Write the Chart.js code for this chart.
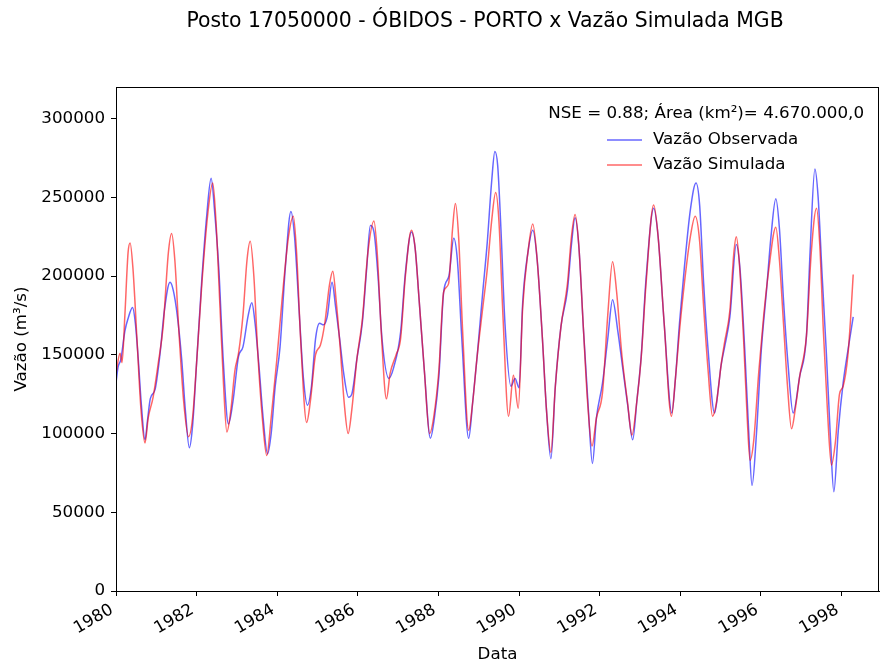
<!DOCTYPE html>
<html>
<head>
<meta charset="utf-8">
<script src="https://cdn.jsdelivr.net/npm/chart.js@4"></script>
<style>
  body { margin: 0; background: #fff; }
  canvas { display: block; }
</style>
</head>
<body>
<canvas id="chart" width="880" height="666"></canvas>
<script>
// leituras aproximadas do gráfico (ano decimal, m³/s)
const obsDates = [1980.00,1980.05,1980.12,1980.22,1980.30,1980.41,1980.48,1980.55,1980.63,1980.72,1980.78,1980.85,1980.97,
  1981.09,1981.20,1981.34,1981.42,1981.52,1981.63,1981.72,1981.82,1981.90,
  1982.00,1982.13,1982.25,1982.36,1982.45,1982.55,1982.66,1982.79,1982.90,
  1983.04,1983.15,1983.28,1983.37,1983.45,1983.55,1983.65,1983.76,1983.85,1983.95,
  1984.07,1984.20,1984.34,1984.43,1984.55,1984.65,1984.75,1984.85,1984.95,
  1985.05,1985.15,1985.24,1985.36,1985.45,1985.55,1985.65,1985.77,1985.85,1985.98,
  1986.11,1986.22,1986.31,1986.40,1986.50,1986.60,1986.77,1986.89,
  1987.06,1987.18,1987.33,1987.42,1987.52,1987.65,1987.80,1987.90,
  1988.01,1988.13,1988.26,1988.38,1988.47,1988.58,1988.75,1988.85,1988.96,
  1989.10,1989.21,1989.32,1989.40,1989.47,1989.55,1989.65,1989.80,1989.90,
  1990.00,1990.09,1990.22,1990.34,1990.45,1990.58,1990.68,1990.79,1990.90,
  1991.04,1991.20,1991.30,1991.39,1991.48,1991.60,1991.72,1991.82,1991.92,
  1992.07,1992.20,1992.32,1992.45,1992.58,1992.69,1992.82,1992.92,
  1993.03,1993.15,1993.34,1993.45,1993.60,1993.79,1993.88,1993.98,
  1994.10,1994.25,1994.39,1994.48,1994.58,1994.69,1994.85,1994.95,
  1995.01,1995.10,1995.23,1995.39,1995.48,1995.60,1995.70,1995.78,1995.89,
  1996.01,1996.14,1996.25,1996.37,1996.46,1996.56,1996.67,1996.80,1996.96,
  1997.13,1997.22,1997.34,1997.42,1997.52,1997.62,1997.72,1997.81,1997.92,
  1998.04,1998.16,1998.29];
const obsValues = [132000,142000,147000,165000,173000,180000,170000,148000,118000,96000,108000,122000,128000,
  150000,178000,196000,191000,175000,147000,115000,91000,105000,
  145000,198000,238000,262000,240000,205000,147000,106000,120000,
  149000,155000,175000,183000,170000,142000,110000,87000,100000,130000,
  155000,205000,241000,225000,175000,135000,118000,130000,160000,
  170000,169000,174000,196000,180000,160000,138000,123000,125000,148000,
  170000,205000,232000,228000,200000,160000,135000,142000,
  164000,202000,228000,218000,185000,140000,97000,110000,
  136000,190000,200000,224000,210000,160000,97000,120000,149000,
  190000,221000,260000,279000,270000,230000,170000,130000,135000,
  129000,183000,215000,229000,210000,160000,115000,84000,130000,
  168000,191000,220000,237000,220000,165000,115000,81000,110000,
  132000,160000,185000,165000,140000,119000,96000,120000,
  149000,198000,243000,225000,170000,113000,135000,170000,
  205000,242000,259000,245000,195000,153000,113000,130000,
  143000,155000,174000,220000,205000,153000,100000,67000,100000,
  153000,191000,225000,249000,230000,185000,145000,113000,136000,
  162000,215000,268000,250000,200000,153000,100000,63000,102000,
  132000,153000,174000];

const simDates = [1980.00,1980.10,1980.15,1980.22,1980.30,1980.35,1980.42,1980.52,1980.62,1980.72,1980.80,1980.92,
  1981.05,1981.17,1981.30,1981.38,1981.46,1981.56,1981.68,1981.80,1981.90,
  1982.00,1982.13,1982.28,1982.40,1982.48,1982.58,1982.67,1982.75,1982.85,1982.95,
  1983.04,1983.15,1983.25,1983.33,1983.42,1983.52,1983.63,1983.74,1983.85,1983.99,
  1984.12,1984.28,1984.40,1984.48,1984.58,1984.73,1984.82,1984.95,
  1985.07,1985.18,1985.30,1985.38,1985.46,1985.56,1985.66,1985.76,1985.85,1985.98,
  1986.11,1986.25,1986.40,1986.48,1986.58,1986.71,1986.80,1986.95,
  1987.06,1987.18,1987.33,1987.42,1987.52,1987.65,1987.78,1987.88,
  1988.01,1988.13,1988.25,1988.35,1988.42,1988.50,1988.60,1988.75,1988.85,1988.96,
  1989.10,1989.21,1989.32,1989.42,1989.50,1989.60,1989.74,1989.86,1989.98,
  1990.09,1990.22,1990.34,1990.45,1990.58,1990.68,1990.79,1990.90,
  1991.04,1991.20,1991.30,1991.39,1991.48,1991.60,1991.70,1991.81,1991.92,
  1992.07,1992.20,1992.32,1992.42,1992.55,1992.69,1992.80,1992.92,
  1993.03,1993.15,1993.34,1993.45,1993.60,1993.78,1993.88,1993.98,
  1994.10,1994.25,1994.37,1994.48,1994.58,1994.69,1994.80,1994.90,
  1995.01,1995.10,1995.23,1995.33,1995.39,1995.46,1995.57,1995.66,1995.73,1995.82,1995.95,
  1996.07,1996.20,1996.37,1996.46,1996.56,1996.66,1996.76,1996.85,1996.96,
  1997.13,1997.25,1997.38,1997.46,1997.55,1997.65,1997.75,1997.85,1997.95,
  1998.04,1998.16,1998.23,1998.29];
const simValues = [138000,151000,145000,175000,215000,221000,205000,160000,115000,94000,110000,123000,
  145000,168000,215000,227000,210000,165000,120000,98000,110000,
  145000,195000,240000,259000,235000,180000,130000,101000,115000,140000,
  151000,175000,210000,222000,200000,150000,110000,86000,110000,147000,
  185000,225000,238000,215000,160000,107000,120000,150000,
  156000,170000,195000,203000,185000,155000,120000,100000,115000,148000,
  172000,215000,235000,215000,165000,122000,138000,150000,
  160000,200000,229000,218000,185000,140000,100000,110000,
  140000,190000,195000,230000,246000,225000,165000,102000,120000,149000,
  180000,204000,235000,253000,235000,175000,111000,137000,116000,
  180000,215000,233000,210000,160000,115000,88000,130000,
  168000,195000,225000,239000,220000,165000,120000,92000,110000,
  126000,175000,209000,190000,150000,120000,99000,120000,
  148000,195000,245000,225000,170000,111000,135000,165000,
  195000,225000,238000,222000,180000,140000,111000,120000,
  143000,158000,178000,215000,225000,210000,160000,110000,83000,95000,140000,
  175000,205000,231000,210000,170000,130000,103000,115000,136000,
  162000,215000,243000,220000,165000,115000,80000,95000,125000,
  130000,150000,175000,201000];

const xTicks = [1980, 1982, 1984, 1986, 1988, 1990, 1992, 1994, 1996, 1998];
const yTicks = [0, 50000, 100000, 150000, 200000, 250000, 300000];

const font = 'DejaVu Sans';
const blue = 'rgba(0,0,255,0.6)';
const red = 'rgba(255,0,0,0.6)';

const toPoints = (xs, ys) => xs.map((x, i) => ({x: x, y: ys[i]}));

const extras = {
  id: 'extras',
  afterDraw(chart) {
    const ctx = chart.ctx;
    const a = chart.chartArea;
    ctx.save();
    ctx.strokeStyle = '#000';
    ctx.lineWidth = 1;
    ctx.strokeRect(Math.round(a.left) + 0.5, Math.round(a.top) + 0.5,
      Math.round(a.right - a.left) - 1, Math.round(a.bottom - a.top));

    ctx.fillStyle = '#000';
    ctx.textBaseline = 'middle';
    ctx.textAlign = 'center';
    ctx.font = '20.4px "' + font + '"';
    ctx.fillText('Posto 17050000 - ÓBIDOS - PORTO x Vazão Simulada MGB', 485, 22);

    ctx.font = '16.7px "' + font + '"';
    ctx.textAlign = 'right';
    ctx.fillText('NSE = 0.88; Área (km²)= 4.670.000,0', 864, 114);
    ctx.textAlign = 'left';
    ctx.fillText('Vazão Observada', 653, 140);
    ctx.fillText('Vazão Simulada', 653, 165);

    ctx.lineWidth = 1.5;
    ctx.strokeStyle = blue;
    ctx.beginPath(); ctx.moveTo(607, 140); ctx.lineTo(642, 140); ctx.stroke();
    ctx.strokeStyle = red;
    ctx.beginPath(); ctx.moveTo(607, 165); ctx.lineTo(642, 165); ctx.stroke();
    ctx.restore();
  }
};

new Chart(document.getElementById('chart'), {
  type: 'line',
  data: {
    datasets: [
      {
        label: 'Vazão Observada',
        data: toPoints(obsDates, obsValues),
        borderColor: blue,
        borderWidth: 1.5,
        pointRadius: 0,
        cubicInterpolationMode: 'monotone',
        order: 2
      },
      {
        label: 'Vazão Simulada',
        data: toPoints(simDates, simValues),
        borderColor: red,
        borderWidth: 1.5,
        pointRadius: 0,
        cubicInterpolationMode: 'monotone',
        order: 1
      }
    ]
  },
  options: {
    responsive: false,
    animation: false,
    devicePixelRatio: 1,
    layout: { padding: { top: 87, right: 1, left: 0, bottom: 0 } },
    plugins: {
      legend: { display: false },
      title: { display: false },
      tooltip: { enabled: false }
    },
    scales: {
      x: {
        type: 'linear',
        min: 1980,
        max: 1998.93,
        afterBuildTicks: s => { s.ticks = xTicks.map(v => ({value: v})); },
        afterFit: s => { s.height = 75; },
        grid: { drawOnChartArea: false, color: '#000', tickLength: 5 },
        border: { display: true, color: '#000' },
        ticks: {
          autoSkip: false,
          minRotation: 30,
          maxRotation: 30,
          padding: 4,
          labelOffset: -4,
          color: '#000',
          font: { family: font, size: 16.7 },
          callback: v => String(v)
        },
        title: {
          display: true,
          text: 'Data',
          color: '#000',
          font: { family: font, size: 16.7 },
          padding: { top: 0, bottom: 1 }
        }
      },
      y: {
        min: 0,
        max: 320000,
        afterBuildTicks: s => { s.ticks = yTicks.map(v => ({value: v})); },
        afterFit: s => { s.width = 116; },
        grid: { drawOnChartArea: false, color: '#000', tickLength: 5 },
        border: { display: true, color: '#000' },
        ticks: {
          padding: 6,
          color: '#000',
          font: { family: font, size: 16.7 },
          callback: v => String(v)
        },
        title: {
          display: true,
          text: 'Vazão (m³/s)',
          color: '#000',
          font: { family: font, size: 16.7 },
          padding: { top: 12, bottom: 0 }
        }
      }
    }
  },
  plugins: [extras]
});
</script>
</body>
</html>
